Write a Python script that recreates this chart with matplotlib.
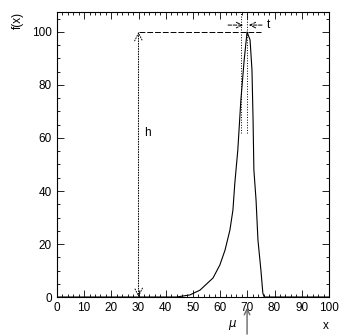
"""f(x) curve with h / t / mu annotations (ROOT-style frame)."""
import matplotlib.pyplot as plt
from matplotlib.ticker import MultipleLocator

# curve
curve_x = [0, 44, 48.9, 52.6, 57.4, 59.9, 61.8, 63.6, 64.7, 65.4, 66.5, 67.6, 68.8, 69.9,
           71.0, 71.7, 72.1, 72.4, 73.2, 73.9, 75.0, 75.7, 76.2, 100]
curve_y = [0, 0, 0.8, 2.6, 7.2, 12.1, 17.7, 25.3, 32.8, 43.0, 55.5, 74.0, 89.0, 100.0,
           97.0, 85.7, 67.0, 48.0, 36.6, 21.5, 10.0, 1.5, 0, 0]

x_ticks = [0, 10, 20, 30, 40, 50, 60, 70, 80, 90, 100]
y_ticks = [0, 20, 40, 60, 80, 100]

h_x = 30
peak_y = 100
mu_x = 69.9
t_lo, t_hi = 68.4, 70.6

plt.rcParams["font.family"] = ["Liberation Sans", "DejaVu Sans"]

fig = plt.figure(figsize=(3.47, 3.36), dpi=100)
ax = fig.add_axes([0.164, 0.116, 0.784, 0.848])

ax.plot(curve_x, curve_y, color="black", lw=0.8)

# h : vertical arrow at x=30 and dashed level line at the peak
ax.annotate("", xy=(h_x, 0), xytext=(h_x, peak_y),
            arrowprops=dict(arrowstyle="<->", lw=0.7, ls=":", color="black",
                            shrinkA=0, shrinkB=0, mutation_scale=14))
ax.plot([h_x, 75], [peak_y, peak_y], color="black", lw=0.7, ls=(0, (6, 2)))
ax.text(32.0, 62, "h", fontsize=8.5, ha="left", va="center")

# t : inward arrows and dotted limits around the peak
ax.annotate("", xy=(t_lo, 102.6), xytext=(62.9, 102.6),
            arrowprops=dict(arrowstyle="->", lw=0.7, ls="--", color="black",
                            shrinkA=0, shrinkB=0))
ax.annotate("", xy=(t_hi, 102.6), xytext=(75.4, 102.6),
            arrowprops=dict(arrowstyle="->", lw=0.7, ls="--", color="black",
                            shrinkA=0, shrinkB=0))
ax.vlines([67.6, t_hi - 0.7], 62, 107.5, colors="black", lw=0.7, ls=":")
ax.text(77.3, 102.6, "t", fontsize=8.5, ha="left", va="center")

# mu : arrow below the axis
ax.annotate("", xy=(mu_x, -4), xytext=(mu_x, -14.0),
            xycoords="data", annotation_clip=False,
            arrowprops=dict(arrowstyle="->", lw=1.0, color="dimgray",
                            shrinkA=0, shrinkB=0))
ax.text(64.5, -10.5, r"$\mu$", fontsize=8.5, ha="center", va="center", clip_on=False)

ax.set_xlim(0, 100)
ax.set_ylim(0, 107.5)
ax.set_xticks(x_ticks)
ax.set_yticks(y_ticks)
ax.xaxis.set_minor_locator(MultipleLocator(2))
ax.yaxis.set_minor_locator(MultipleLocator(5))
ax.tick_params(which="both", direction="in", top=True, right=True, labelsize=8.5,
               width=0.6)
ax.tick_params(which="major", length=5)
ax.tick_params(which="minor", length=2.5)
for s in ax.spines.values():
    s.set_linewidth(0.8)

ax.text(1.0, -0.1, "x", transform=ax.transAxes, fontsize=8.5, ha="right", va="center")
ax.text(-0.145, 1.0, "f(x)", transform=ax.transAxes, fontsize=8.5, ha="center",
        va="top", rotation=90)

fig.savefig("out.png", dpi=100)
